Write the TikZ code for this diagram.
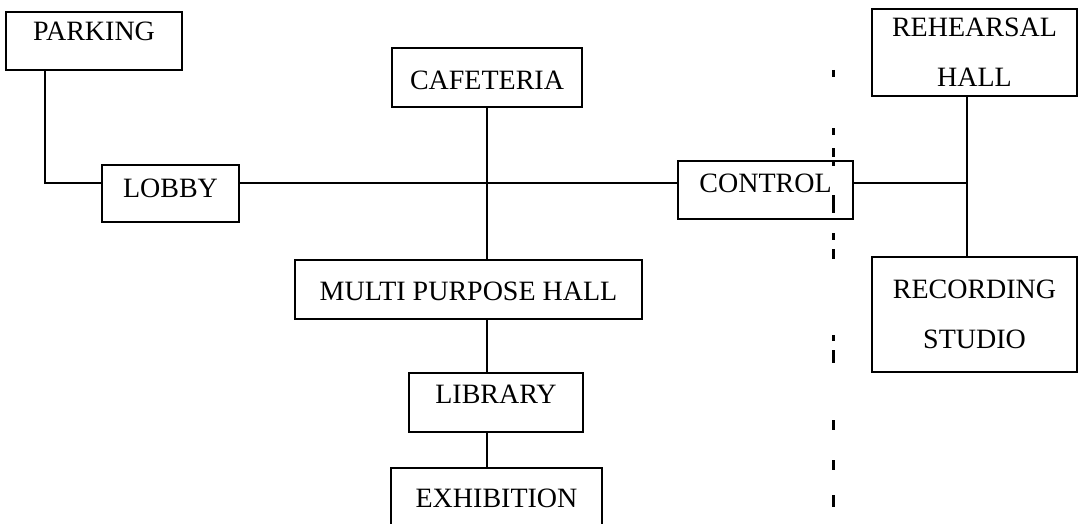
\documentclass[tikz,border=0pt]{standalone}
\usepackage{fontspec}
\setmainfont{Liberation Serif}
\newcommand\roomfont{\fontsize{28}{50}\selectfont}
\tikzset{
  room/.style={draw, line width=2pt, inner sep=0pt, outer sep=0pt,
    anchor=north west, font=\roomfont, align=center},
  link/.style={line width=1.8pt},
  cut/.style={line width=3pt}
}
\begin{document}
\begin{tikzpicture}[x=1pt, y=-1pt]
            \clip (0, 0) rectangle (1083, 524);
            % rooms
            \node[room, minimum width=176, text height=29, text depth=29]
            (parking) at (6, 12) {PARKING};
            \node[room, minimum width=190, text height=42, text depth=17]
            (cafeteria) at (392, 48) {CAFETERIA};
            \node[room, minimum width=205, minimum height=87]
            (rehearsal) at (872, 9) {REHEARSAL\\HALL};
            \node[room, minimum width=137, text height=32, text depth=25]
            (lobby) at (102, 165) {LOBBY};
            \node[room, minimum width=175, text height=31, text depth=27]
            (control) at (678, 161) {CONTROL};
            \node[room, minimum width=347, text height=40, text depth=19]
            (mph) at (295, 260) {MULTI PURPOSE HALL};
            \node[room, minimum width=205, minimum height=115]
            (recording) at (872, 257) {RECORDING\\STUDIO};
            \node[room, minimum width=174, text height=30, text depth=29]
            (library) at (409, 373) {LIBRARY};
            \node[room, minimum width=211, text height=39, text depth=60]
            (exhibition) at (391, 468) {EXHIBITION};

            % links
            \coordinate (hub) at (967, 183);
            \draw[link] ([xshift=39pt]parking.south west) |- (lobby.west |- hub);
            \draw[link] (lobby.east |- hub) -- (control.west |- hub);
            \draw[link] (control.east |- hub) -- (hub);
            \draw[link] (hub |- rehearsal.south) -- (hub |- recording.north);
            \draw[link] (cafeteria.south) -- (cafeteria.south |- mph.north);
            \draw[link] (cafeteria.south |- mph.south) -- (cafeteria.south |- library.north);
            \draw[link] (cafeteria.south |- library.south) -- (cafeteria.south |- exhibition.north);

            % dashed cut line
            \draw[cut] (833, 70) -- (833, 77) (833, 128) -- (833, 135)
            (833, 148) -- (833, 157) (833, 160) -- (833, 166)
            (833, 195) -- (833, 213) (833, 233) -- (833, 240)
            (833, 249) -- (833, 259) (833, 335) -- (833, 341)
            (833, 350) -- (833, 363) (833, 420) -- (833, 430)
            (833, 460) -- (833, 470) (833, 495) -- (833, 507);

        \end{tikzpicture}
\end{document}
